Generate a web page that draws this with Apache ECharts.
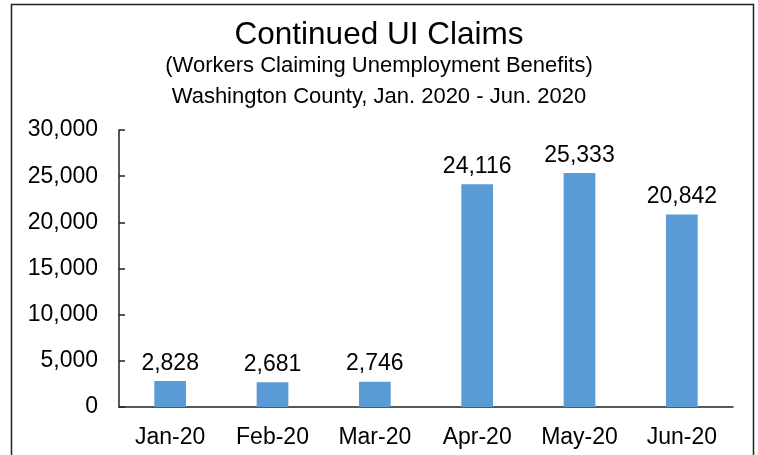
<!DOCTYPE html>
<html>
<head>
<meta charset="utf-8">
<script src="https://cdn.jsdelivr.net/npm/echarts@6/dist/echarts.min.js"></script>
<style>
  html, body { margin: 0; padding: 0; background: #fff; }
  #chart { width: 758px; height: 455px; }
</style>
</head>
<body>
<div id="chart"></div>
<script>
// data
var months = ['Jan-20', 'Feb-20', 'Mar-20', 'Apr-20', 'May-20', 'Jun-20'];
var claims = [2828, 2681, 2746, 24116, 25333, 20842];
var yTicks = [0, 5000, 10000, 15000, 20000, 25000, 30000];

var font = '"Liberation Sans", Arial, sans-serif';
var myChart = echarts.init(document.getElementById('chart'));

var option = {
  animation: false,
  textStyle: { fontFamily: font },
  graphic: [
    {
      type: 'rect',
      shape: { x: 11.5, y: 4.5, width: 742, height: 470 },
      style: { fill: 'none', stroke: '#222', lineWidth: 1.5 }
    },
    {
      type: 'text', left: 'center', top: 19,
      style: { text: 'Continued UI Claims', font: '31.5px ' + font, fill: '#000' }
    },
    {
      type: 'text', left: 'center', top: 55,
      style: { text: '(Workers Claiming Unemployment Benefits)', font: '22px ' + font, fill: '#000' }
    },
    {
      type: 'text', left: 'center', top: 86,
      style: { text: 'Washington County, Jan. 2020 - Jun. 2020', font: '22px ' + font, fill: '#000' }
    }
  ],
  grid: { left: 119, right: 25, top: 130, bottom: 48, containLabel: false },
  xAxis: {
    type: 'category',
    data: months,
    axisLine: { lineStyle: { color: '#222', width: 1.5 } },
    axisTick: { show: false },
    axisLabel: { color: '#000', fontSize: 23, margin: 19, fontFamily: font }
  },
  yAxis: {
    type: 'value',
    min: yTicks[0],
    max: yTicks[yTicks.length - 1],
    interval: 5000,
    splitLine: { show: false },
    axisLine: { show: true, lineStyle: { color: '#222', width: 1.5 } },
    axisTick: { show: true, inside: true, length: 6, lineStyle: { color: '#222', width: 1.5 } },
    axisLabel: {
      color: '#000', fontSize: 23, margin: 21, fontFamily: font,
      formatter: function (v) { return v.toLocaleString('en-US'); }
    }
  },
  series: [
    {
      type: 'bar',
      data: claims,
      barWidth: '31%',
      itemStyle: { color: '#5B9BD5' },
      label: {
        show: true,
        position: 'top',
        distance: 6,
        color: '#000',
        fontSize: 23,
        fontFamily: font,
        formatter: function (p) { return p.value.toLocaleString('en-US'); }
      }
    }
  ]
};

myChart.setOption(option);
</script>
</body>
</html>
